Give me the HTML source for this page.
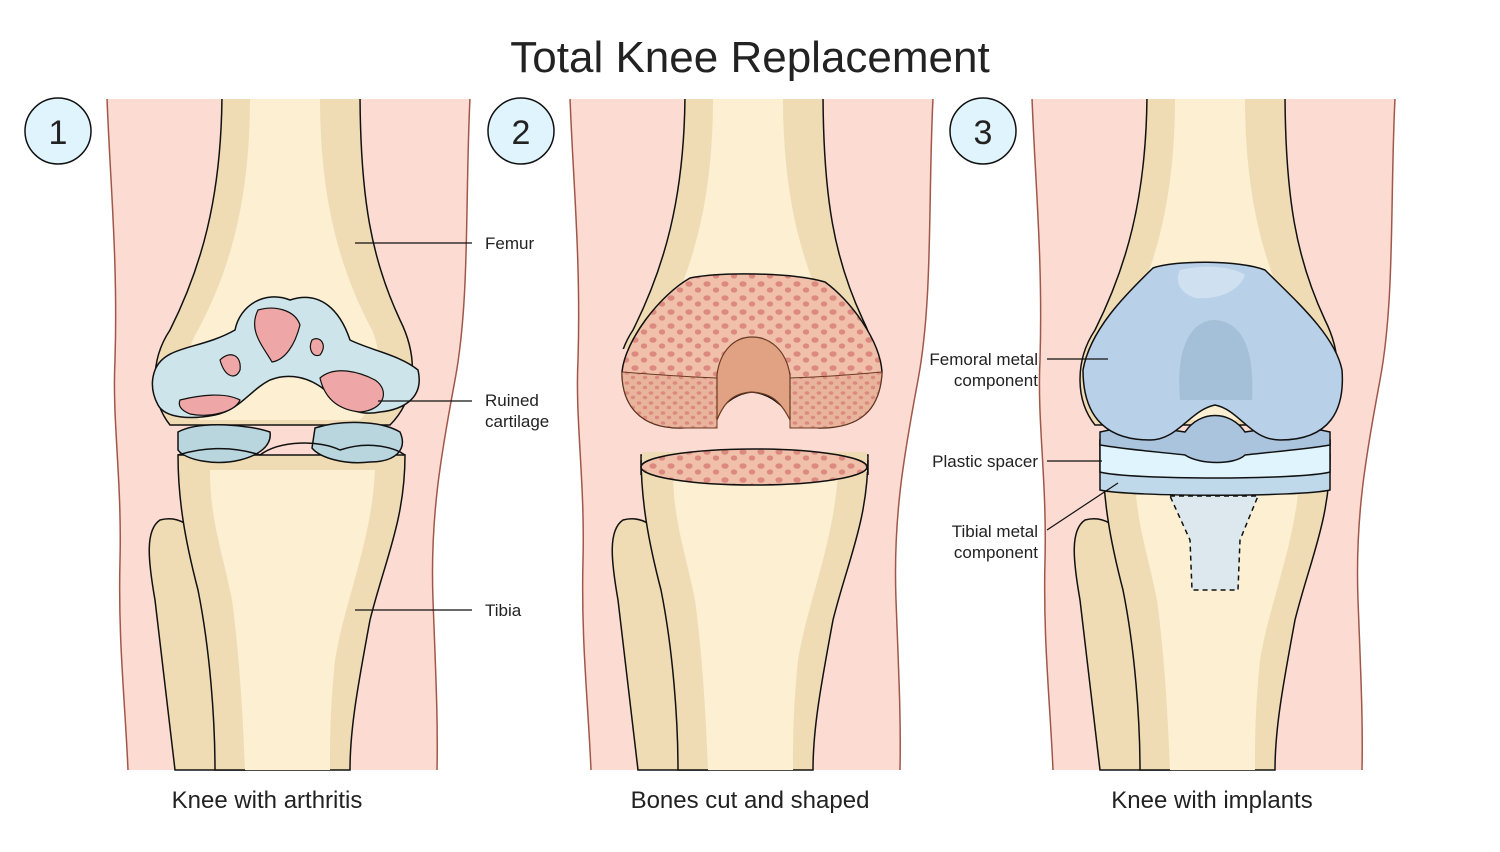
<!DOCTYPE html>
<html><head><style>
body{margin:0;background:#fff;width:1500px;height:852px;overflow:hidden}
svg{display:block}
text{font-family:"Liberation Sans",sans-serif;fill:#222}
</style></head><body>
<svg width="1500" height="852" viewBox="0 0 1500 852">
<defs>
<clipPath id="top"><rect x="0" y="99" width="1500" height="680"/></clipPath>
<clipPath id="upper"><rect x="0" y="99" width="1500" height="250"/></clipPath>
<pattern id="dots" width="18" height="14" patternUnits="userSpaceOnUse">
<rect width="18" height="14" fill="#f1c0aa"/>
<ellipse cx="5" cy="4" rx="3.6" ry="2.8" fill="#dc8a80"/>
<ellipse cx="14" cy="10" rx="3.2" ry="2.6" fill="#dc8a80"/>
</pattern>
<pattern id="dots2" width="12" height="10" patternUnits="userSpaceOnUse">
<rect width="12" height="10" fill="#e9b49c"/>
<ellipse cx="3" cy="3" rx="2.4" ry="1.8" fill="#dc8a80"/>
<ellipse cx="9" cy="7.5" rx="2.2" ry="1.7" fill="#dc8a80"/>
</pattern>
<g id="skin">
<path d="M107,98 L470,98 C465,200 470,300 455,380 C440,460 430,520 433,600 C436,680 438,720 437,770 L128,770 C125,700 118,640 120,560 C122,480 112,420 115,360 C118,260 110,180 107,98Z" fill="#fcdcd2"/>
<path d="M107,98 C110,180 118,260 115,360 C112,420 122,480 120,560 C118,640 125,700 128,770" fill="none" stroke="#a0574a" stroke-width="1.5"/>
<path d="M470,98 C465,200 470,300 455,380 C440,460 430,520 433,600 C436,680 438,720 437,770" fill="none" stroke="#a0574a" stroke-width="1.5"/>
</g>
<g id="lower">
<path d="M160,520 C145,530 148,560 155,600 L175,770 L245,770 L222,600 C212,545 190,512 160,520Z" fill="#f0dcb4" stroke="#111" stroke-width="1.5"/>
<path d="M178,455 L405,455 C405,520 385,560 370,620 C357,690 350,730 350,770 L215,770 C215,720 210,650 198,590 C185,540 178,500 178,455Z" fill="#f0dcb4" stroke="#111" stroke-width="1.5"/>
<path d="M210,470 L375,470 C372,540 345,600 335,660 C330,710 330,740 330,770 L245,770 C243,720 240,660 232,600 C222,550 210,520 210,470Z" fill="#fcefd2"/>
</g>
<g id="femur">
<path d="M222,90 L360,90 C360,200 372,260 400,320 C420,360 415,400 390,425 L170,425 C150,400 150,360 170,330 C200,270 222,200 222,90Z" fill="#f0dcb4" stroke="#111" stroke-width="1.5"/>
<path d="M250,98 L320,98 C320,200 340,270 372,330 C385,360 380,400 360,420 L200,420 C180,400 180,360 198,330 C230,270 250,200 250,98Z" fill="#fcefd2"/>
</g>
</defs>

<text x="750" y="72" font-size="44" text-anchor="middle" fill="#111">Total Knee Replacement</text>

<!-- Panel 1 -->
<g clip-path="url(#top)"><use href="#skin"/><use href="#lower"/><use href="#femur"/></g>
<path d="M155,370 C165,345 200,350 235,330 C240,305 265,290 290,300 C320,290 340,310 350,340 C370,350 400,355 418,370 C425,400 400,410 380,412 C350,418 340,400 325,390 C310,378 290,372 270,380 C250,390 240,410 215,415 C190,420 165,418 158,405 C150,390 152,378 155,370Z" fill="#cde5ea" stroke="#111" stroke-width="1.5"/>
<path d="M178,432 C200,420 250,425 270,432 C272,445 260,455 240,460 C215,466 185,460 178,450Z M315,428 C340,420 380,420 400,432 C408,450 395,462 370,462 C345,465 320,458 312,448Z" fill="#b9d6de" stroke="#111" stroke-width="1.5"/>
<path d="M258,310 C275,305 295,310 300,325 C295,345 285,360 272,362 C262,345 248,330 258,310Z" fill="#eea6a6" stroke="#111" stroke-width="1.2"/>
<path d="M220,360 C230,350 242,355 240,370 C236,380 225,378 220,360Z M312,340 C320,335 328,345 320,355 C312,358 308,348 312,340Z" fill="#eea6a6" stroke="#111" stroke-width="1.2"/>
<path d="M320,378 C335,365 360,372 375,380 C390,390 385,410 360,412 C340,410 325,400 320,378Z M180,400 C200,395 225,392 240,400 C235,412 210,418 190,414 C180,410 178,405 180,400Z" fill="#eea6a6" stroke="#111" stroke-width="1.2"/>
<path d="M178,455 C200,448 230,445 260,455 C280,440 320,440 340,450 C370,440 395,448 405,455" fill="none" stroke="#111" stroke-width="1.5"/>
<circle cx="58" cy="131" r="33" fill="#dff4fc" stroke="#111" stroke-width="1.5"/>
<text x="58" y="144" font-size="34" text-anchor="middle">1</text>
<g stroke="#111" stroke-width="1.2">
<line x1="355" y1="243" x2="472" y2="243"/>
<line x1="378" y1="401" x2="472" y2="401"/>
<line x1="355" y1="610" x2="472" y2="610"/>
</g>
<text x="485" y="249" font-size="17">Femur</text>
<text x="485" y="406" font-size="17">Ruined</text>
<text x="485" y="427" font-size="17">cartilage</text>
<text x="485" y="616" font-size="17">Tibia</text>
<text x="267" y="808" font-size="24" text-anchor="middle">Knee with arthritis</text>

<!-- Panel 2 -->
<g transform="translate(463,0)" clip-path="url(#top)"><use href="#skin"/><use href="#lower"/></g>
<g transform="translate(463,0)" clip-path="url(#upper)"><use href="#femur"/></g>
<path d="M690,278 C720,272 790,272 825,282 C850,300 880,340 882,372 C880,410 860,428 820,428 C790,428 785,395 752,392 C720,395 715,428 680,428 C640,428 622,405 622,372 C625,340 660,295 690,278Z" fill="url(#dots)" stroke="#111" stroke-width="1.5"/>
<path d="M622,372 C660,375 690,377 717,378 L717,428 C700,428 690,428 680,428 C640,428 622,405 622,372Z M882,372 C850,375 820,377 790,378 L790,428 C800,428 810,428 820,428 C860,428 880,410 882,372Z" fill="url(#dots2)" stroke="#6b3a22" stroke-width="1"/>
<path d="M717,420 L717,375 C720,350 735,337 752,337 C770,337 786,350 790,375 L790,420 C780,400 770,393 752,392 C735,393 725,400 717,420Z" fill="#e0a283" stroke="#6b3a22" stroke-width="1.2"/>
<rect x="642" y="452" width="225" height="20" fill="#f0dcb4"/>
<path d="M641,460 L641,475 M868,460 L868,475" stroke="#111" stroke-width="1.5"/>
<ellipse cx="754" cy="467" rx="113" ry="18" fill="url(#dots)" stroke="#111" stroke-width="1.5"/>
<circle cx="521" cy="131" r="33" fill="#dff4fc" stroke="#111" stroke-width="1.5"/>
<text x="521" y="144" font-size="34" text-anchor="middle">2</text>
<text x="750" y="808" font-size="24" text-anchor="middle">Bones cut and shaped</text>

<!-- Panel 3 -->
<g transform="translate(925,0)" clip-path="url(#top)"><use href="#skin"/><use href="#lower"/><use href="#femur"/></g>
<path d="M1170,496 L1258,496 L1240,540 L1238,590 L1192,590 L1190,540Z" fill="#dce8ee" stroke="#111" stroke-width="1.5" stroke-dasharray="5,4"/>
<path d="M1100,440 L1330,440 L1330,490 C1300,497 1130,497 1100,490Z" fill="#bfd8ea" stroke="#111" stroke-width="1.5"/>
<path d="M1100,440 L1330,440 L1330,472 C1300,480 1130,480 1100,472Z" fill="#dff4fc" stroke="#111" stroke-width="1.5"/>
<path d="M1100,432 C1130,425 1160,428 1185,432 C1200,410 1230,410 1245,432 C1270,428 1300,425 1330,432 L1330,445 C1300,450 1270,452 1245,455 C1235,465 1200,465 1185,455 C1160,452 1130,450 1100,445Z" fill="#a9c4dc" stroke="#111" stroke-width="1.5"/>
<path d="M1153,268 C1175,260 1240,260 1265,270 C1295,300 1335,335 1342,370 C1345,410 1330,440 1280,440 C1250,440 1240,410 1215,405 C1190,410 1178,440 1150,440 C1100,440 1083,410 1083,370 C1090,330 1125,295 1153,268Z" fill="#b8d0e8" stroke="#111" stroke-width="1.5"/>
<path d="M1180,270 C1200,265 1230,265 1245,275 C1240,290 1220,300 1195,298 C1178,292 1175,280 1180,270Z" fill="#cfe0f0"/>
<path d="M1180,400 C1175,340 1195,320 1215,320 C1240,322 1255,345 1252,400" fill="#a4bfd8"/>
<circle cx="983" cy="131" r="33" fill="#dff4fc" stroke="#111" stroke-width="1.5"/>
<text x="983" y="144" font-size="34" text-anchor="middle">3</text>
<g stroke="#111" stroke-width="1.2">
<line x1="1047" y1="359" x2="1108" y2="359"/>
<line x1="1047" y1="461" x2="1102" y2="461"/>
<line x1="1047" y1="530" x2="1118" y2="483"/>
</g>
<g font-size="17" text-anchor="end">
<text x="1038" y="365">Femoral metal</text>
<text x="1038" y="386">component</text>
<text x="1038" y="467">Plastic spacer</text>
<text x="1038" y="537">Tibial metal</text>
<text x="1038" y="558">component</text>
</g>
<text x="1212" y="808" font-size="24" text-anchor="middle">Knee with implants</text>
</svg>
</body></html>
